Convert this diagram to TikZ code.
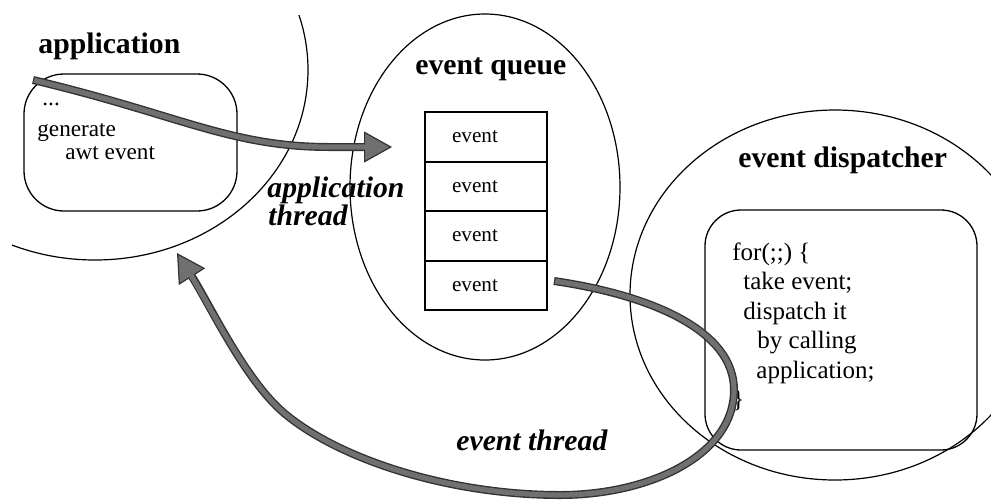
\documentclass[tikz,border=0pt]{standalone}
\usepackage{fontspec}
\setmainfont{Liberation Serif}
\usetikzlibrary{arrows.meta, shapes.geometric}
\definecolor{threadgray}{RGB}{112,112,112}
\tikzset{
  region/.style={ellipse, draw, line width=0.6pt, inner sep=0pt},
  codebox/.style={draw, line width=0.65pt, inner sep=0pt},
  slot/.style={draw, line width=1pt, minimum width=61pt, minimum height=24.75pt,
    inner xsep=13.5pt, inner ysep=0pt, text width=34pt, align=left,
    font=\fontsize{10.6}{12}\selectfont},
  heading/.style={anchor=base west, inner sep=0pt, font=\fontsize{14.85}{17}\selectfont\bfseries},
  threadlabel/.style={anchor=base west, inner sep=0pt, font=\fontsize{14.85}{17}\selectfont\bfseries\itshape},
  appcode/.style={anchor=base west, inner sep=0pt, font=\fontsize{11.6}{14}\selectfont},
  loopcode/.style={anchor=base west, inner sep=0pt, font=\fontsize{12.5}{15}\selectfont},
  threadrim/.style={line width=4pt, draw=black!80,
    -{Triangle[length=14pt, width=15.5pt, line width=0.6pt, fill=threadgray]}},
  threadcore/.style={line width=2.6pt, draw=threadgray, shorten <=0.6pt, shorten >=9pt},
}
\begin{document}
\begin{tikzpicture}[x=0.5pt, y=-0.5pt]
    \useasboundingbox (0,0) rectangle (991,500);
    % application
    \begin{scope}
        \clip (12,15) rectangle (991,500);
        \node (app) at (95,70) [region, minimum width=213pt, minimum height=190pt] {};
    \end{scope}
    \node (appbox) at (130.5,142.5) [codebox, rounded corners=20pt, minimum width=106.5pt, minimum height=68.5pt] {};
    \node[heading] (apptitle) at (38,53) {application};
    \node[appcode] (dots) at (42,105) {...};
    \node[appcode] (gen) at (37,136) {generate};
    \node[appcode] (awt) at (65,159) {awt event};
    % event queue
    \node (queue) at (485,187) [region, minimum width=135pt, minimum height=173pt] {};
    \node[heading] (queuetitle) at (415,74) {event queue};
    \foreach \i in {1,...,4}
        \node[slot] (ev\i) at (486,87.5+49.5*\i) {event};
    % event dispatcher
    \node (disp) at (835,295) [region, minimum width=205pt, minimum height=185pt] {};
    \node (dispbox) at (841,330) [codebox, rounded corners=18pt, minimum width=136pt, minimum height=120pt] {};
    \node[heading] (disptitle) at (738,167) {event dispatcher};
    \node[loopcode] (l1) at (732,260) {for(;;) \{};
    \node[loopcode] (l2) at (743,289.5) {take event;};
    \node[loopcode] (l3) at (743,319) {dispatch it};
    \node[loopcode] (l4) at (757,348.5) {by calling};
    \node[loopcode] (l5) at (756,378) {application;};
    \node[loopcode] (l6) at (732,407.5) {\}};
    % threads
    \node[threadlabel] (at1) at (267,197) {application};
    \node[threadlabel] (at2) at (268,225) {thread};
    \node[threadlabel] (et) at (456,450) {event thread};
    \coordinate (appout) at (33,80);
    \coordinate (queuein) at (392,147);
    \coordinate (queueout) at (554,281);
    \coordinate (appin) at (177,253);
    \draw[threadrim] (appout) .. controls (180,115) and (230,147) .. (330,147) -- (queuein);
    \draw[threadcore] (appout) .. controls (180,115) and (230,147) .. (330,147) -- (queuein);
    \draw[threadrim] (queueout) .. controls (650,295) and (734,330) .. (734,390)
        .. controls (734,455) and (650,495) .. (560,495)
        .. controls (450,495) and (340,460) .. (284,413)
        .. controls (245,380) and (210,305) .. (appin);
    \draw[threadcore] (queueout) .. controls (650,295) and (734,330) .. (734,390)
        .. controls (734,455) and (650,495) .. (560,495)
        .. controls (450,495) and (340,460) .. (284,413)
        .. controls (245,380) and (210,305) .. (appin);
\end{tikzpicture}
\end{document}
